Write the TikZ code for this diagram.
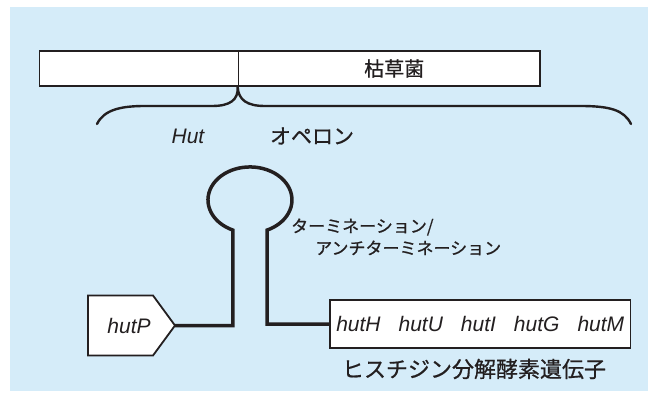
\documentclass[tikz,border=0pt]{standalone}
\usepackage{fontspec}
\setmainfont{Liberation Sans}
\newfontfamily\jp[FakeBold=0.7]{Noto Sans CJK JP}
\definecolor{bgblue}{HTML}{D5ECF9}
\definecolor{ink}{HTML}{231F20}
\begin{document}
\begin{tikzpicture}[x=1pt,y=-1pt,
  barbox/.style={draw=ink, line width=1.8pt, fill=white, minimum height=35pt, inner sep=0pt, font=\jp\fontsize{20}{20}\selectfont, text=ink},
  genebox/.style={draw=ink, line width=1.8pt, fill=white, inner sep=0pt},
  promoter/.style={draw=ink, line width=1.8pt, fill=white, line join=miter},
  stemline/.style={draw=ink, line width=3.5pt, line join=miter},
  bracestyle/.style={draw=ink, line width=2.4pt, line cap=round},
  jplabel/.style={font=\jp\fontsize{21}{21}\selectfont, text=ink, inner sep=0pt},
  jpsmall/.style={font=\jp\fontsize{17}{17}\selectfont, text=ink, inner sep=0pt},
  itlabel/.style={font=\fontsize{21}{21}\selectfont\itshape, text=ink, inner sep=0pt}]
\useasboundingbox (0,0) rectangle (648,398);
\fill[bgblue] (9.5,7) rectangle (648,391);
% bar
\node[barbox, minimum width=199pt] (barL) at (139,68.5) {};
\node[barbox, minimum width=301.5pt] (barR) at (389.25,68.5) {\hspace*{10pt}枯草菌};
% brace
\coordinate (tip) at (barR.south west);
\coordinate (bL) at (97,124);
\coordinate (bR) at (631,124);
\draw[bracestyle] (bL) .. controls (104,110) and (120,106) .. (145,106) -- (212,106)
  .. controls (230,106) and (238.5,100) .. (tip)
  .. controls (238.5,100) and (247,106) .. (265,106) -- (580,106)
  .. controls (610,106) and (624,110) .. (bR);
\node[itlabel] (hut) at (188,136) {Hut};
\node[jplabel] (operon) at (312,136) {オペロン};
% promoter
\coordinate (ptip) at (175,325.5);
\draw[promoter] (88,295.5) -- (153,295.5) -- (ptip) -- (153,355.5) -- (88,355.5) -- cycle;
\node[itlabel] (hutP) at (129,325.5) {hutP};
% genes
\node[genebox, minimum width=300.5pt, minimum height=48pt, itlabel] (genes) at (480.25,324)
  {hutH\hspace{18pt}hutU\hspace{18pt}hutI\hspace{18pt}hutG\hspace{18pt}hutM};
% stem-loop
\coordinate (jL) at (232.9,230.1);
\draw[stemline] (ptip) -| (jL)
  arc[start angle=246, end angle=-66, x radius=42pt, y radius=33pt] |- (genes.west);
% labels
\node[jpsmall, anchor=west] (term1) at (291,227) {ターミネーション/};
\node[jpsmall, anchor=west] (term2) at (315,248) {アンチターミネーション};
\node[jplabel, font=\jp\fontsize{22}{22}\selectfont] (enzyme) at (474,369) {ヒスチジン分解酵素遺伝子};
\end{tikzpicture}
\end{document}
